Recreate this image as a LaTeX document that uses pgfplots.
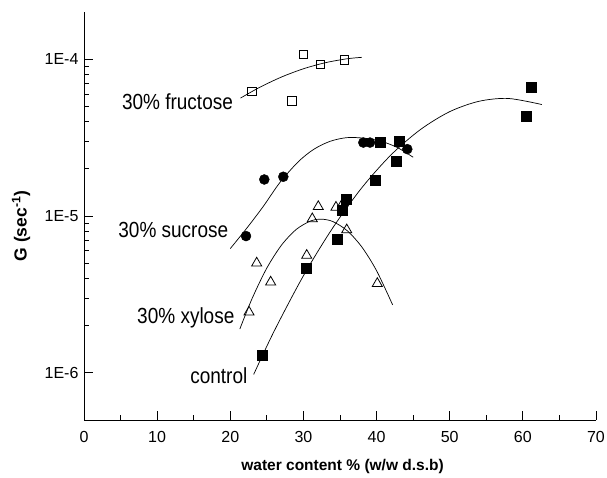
\documentclass[border=0pt]{standalone}
\usepackage{fontspec}
\setmainfont{Liberation Sans}
\usepackage{pgfplots}
\pgfplotsset{compat=1.18}
\newcommand{\lbl}[1]{\scalebox{1}[1.15]{\fontsize{19}{22}\selectfont #1}}
\begin{document}
\begin{tikzpicture}
\useasboundingbox (-84pt,-57pt) rectangle (523pt,420pt);
\begin{axis}[
  scale only axis, width=512pt, height=408pt,
  xmin=0, xmax=70, ymode=log, ymin=5e-7, ymax=2e-4,
  axis x line*=bottom, axis y line*=left,
  axis line style={-, line width=1pt},
  xtick={0,10,...,70}, minor x tick num=1,
  ytick={1e-6,1e-5,1e-4}, yticklabels={1E-6,1E-5,1E-4},
  tick align=inside,
  major tick length=9pt, minor tick length=5pt,
  every tick/.style={black, line width=0.9pt},
  /pgf/number format/assume math mode=true,
  ticklabel style={font=\fontsize{16}{19}\selectfont},
  xticklabel style={yshift=-8pt},
  yticklabel style={xshift=-2pt},
  xlabel={water content \% (w/w d.s.b)},
  ylabel={G (sec\textsuperscript{-1})},
  xlabel style={font=\bfseries\fontsize{15.5}{18}\selectfont, at={(axis description cs:0.505,-0.113)}, anchor=center},
  ylabel style={font=\bfseries\fontsize{17.5}{20}\selectfont, at={(axis description cs:-0.123,0.4755)}, anchor=center},
  clip=false,
]
% fitted curves
\addplot[black, line width=0.7pt, smooth] coordinates {
 (21.4,5.65e-5) (24,6.61e-5) (27,7.70e-5) (30,8.69e-5) (33,9.50e-5) (36,1.007e-4) (38,1.028e-4)};
\addplot[black, line width=0.7pt, smooth] coordinates {
 (20.0,6.2e-6) (22.2,8.3e-6) (24.5,1.15e-5) (26.8,1.64e-5) (29.3,2.22e-5) (31.4,2.66e-5) (33.6,2.99e-5) (35.9,3.16e-5) (38.2,3.14e-5) (40.5,3.01e-5) (42.8,2.74e-5) (45.0,2.37e-5)};
\addplot[black, line width=0.7pt, smooth] coordinates {
 (21.3,1.90e-6) (23,2.99e-6) (25,4.66e-6) (27,6.52e-6) (29,8.20e-6) (31,9.31e-6) (32.4,9.55e-6) (34,9.23e-6) (36,8.05e-6) (38,6.33e-6) (40,4.48e-6) (42.2,2.71e-6)};
\addplot[black, line width=0.7pt, smooth] coordinates {
 (23.2,9.77e-7) (26,1.845e-6) (30,4.16e-6) (34,8.39e-6) (38,1.518e-5) (42,2.46e-5) (46,3.56e-5) (50,4.63e-5) (54,5.39e-5) (58,5.62e-5) (62.6,5.14e-5)};
% 30% fructose
\addplot[only marks, mark=square, mark size=4.2pt, mark options={black, fill=white, line width=0.8pt}] coordinates {
 (22.93,6.25e-5) (30.03,1.076e-4) (32.36,9.24e-5) (35.64,9.90e-5) (28.40,5.43e-5)};
% 30% sucrose
\addplot[only marks, mark=*, mark size=5pt, mark options={black, fill=black}] coordinates {
 (22.15,7.45e-6) (24.65,1.71e-5) (27.25,1.78e-5) (38.19,2.94e-5) (39.10,2.94e-5) (44.2,2.67e-5)};
% 30% xylose
\addplot[only marks, mark=triangle, mark size=5.8pt, mark options={black, fill=white, line width=0.8pt}] coordinates {
 (22.56,2.44e-6) (23.61,5.01e-6) (25.52,3.79e-6) (30.45,5.61e-6) (31.21,9.60e-6) (32.03,1.148e-5) (34.45,1.137e-5) (35.37,1.20e-5) (35.92,8.16e-6) (40.10,3.71e-6)};
% control
\addplot[only marks, mark=square*, mark size=5pt, mark options={black, fill=black}] coordinates {
 (24.4,1.30e-6) (30.44,4.68e-6) (34.63,7.16e-6) (35.32,1.094e-5) (35.78,1.28e-5) (39.88,1.70e-5) (42.66,2.23e-5) (43.07,2.99e-5) (40.56,2.94e-5) (60.4,4.35e-5) (61.2,6.6e-5)};
\node[anchor=base] at (axis cs:12.78,4.81e-5) {\lbl{30\% fructose}};
\node[anchor=base] at (axis cs:12.21,7.33e-6) {\lbl{30\% sucrose}};
\node[anchor=base] at (axis cs:13.92,2.06e-6) {\lbl{30\% xylose}};
\node[anchor=base] at (axis cs:18.43,8.57e-7) {\lbl{control}};
\end{axis}
\end{tikzpicture}
\end{document}
